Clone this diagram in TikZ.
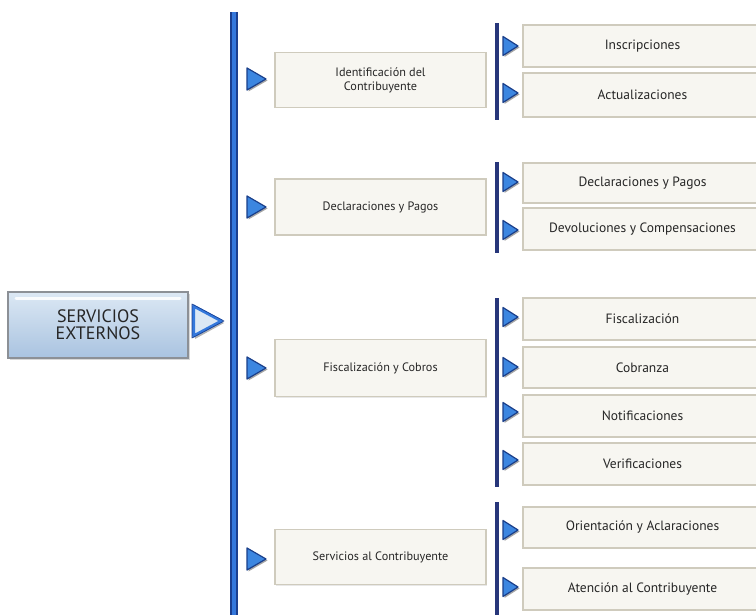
\documentclass[tikz,border=0pt]{standalone}
\usepackage{fontspec}
\setmainfont{PT Sans}
\usetikzlibrary{shadows}
\definecolor{boxfill}{HTML}{F7F6F1}
\definecolor{boxedge}{HTML}{CFCBBD}
\definecolor{txt}{HTML}{262626}
\definecolor{mainbar}{HTML}{3478DC}
\definecolor{mainbaredge}{HTML}{1B3F8F}
\definecolor{subbar}{HTML}{27367A}
\definecolor{trifill}{HTML}{3C86E0}
\definecolor{triedge}{HTML}{1A3F8A}
\definecolor{maintop}{HTML}{DCE8F4}
\definecolor{mainbot}{HTML}{A9C3E0}
\definecolor{mainedge}{HTML}{8C9096}
\newcommand{\ptri}[4]{%
  \fill[black,opacity=.35] (#1+1.5,#2-#4/2+1.5) -- (#1+#3+1.5,#2+1.5) -- (#1+1.5,#2+#4/2+1.5) -- cycle;
  \draw[tristyle] (#1,#2-#4/2) -- (#1+#3,#2) -- (#1,#2+#4/2) -- cycle;}
\tikzset{
  tristyle/.style={draw=triedge, line width=1.2pt, line join=round, fill=trifill},
  lonebox/.style={rectangle, fill=boxfill, draw=boxedge, line width=1.8pt, text=txt,
    align=center, font=\fontsize{12.2}{14}\selectfont,
    drop shadow={shadow xshift=1pt, shadow yshift=-1pt, opacity=.18}},
  ltwobox/.style={lonebox, minimum width=239pt, font=\fontsize{13.5}{15}\selectfont},
  lone/.style={lonebox, minimum width=211pt, minimum height=55pt},
}
\begin{document}
\begin{tikzpicture}[x=1pt,y=-1pt]
\clip (0,0) rectangle (756,615);
\fill[white] (0,0) rectangle (756,615);
% main box
\node[rectangle, minimum width=180pt, minimum height=66pt, top color=maintop, bottom color=mainbot,
  draw=mainedge, line width=1.4pt, text=txt, align=center,
  font=\fontsize{18}{17}\selectfont,
  drop shadow={shadow xshift=1.5pt, shadow yshift=-1.5pt, opacity=.3}]
  (main) at (98,325) {SERVICIOS\\EXTERNOS};
\draw[white, line width=3pt, opacity=.85, line cap=round] (16,298) -- (180,298);
% main triangle: thick blue outline, light interior
\fill[black,opacity=.3] (195,307) -- (224,323) -- (195,339) -- cycle;
\draw[draw=mainbar, line width=3pt, line join=round, fill=maintop] (193.5,306) -- (221.5,321) -- (193.5,336) -- cycle;
\draw[draw=mainbaredge, line width=.6pt, line join=round] (192,304) -- (224,321) -- (192,338) -- cycle;
% main bar
\fill[mainbaredge] (230,12) rectangle (237.5,615);
\fill[mainbar] (231.5,12) rectangle (236,615);
% level 1 boxes
\node[lone] (id) at (380.5,80) {Identificación del\\Contribuyente};
\node[lone, minimum height=56pt] (dp) at (380.5,207) {Declaraciones y Pagos};
\node[lone, minimum height=57pt] (fc) at (380.5,368) {Fiscalización y Cobros};
\node[lone] (sc) at (380.5,557) {Servicios al Contribuyente};
\ptri{247}{79}{19}{22}
\ptri{247}{207}{19}{22}
\ptri{247}{368}{19}{22}
\ptri{247}{559}{19}{22}
% level 2 bars
\fill[subbar] (495,23) rectangle (499,120);
\fill[subbar] (495,162) rectangle (499,253);
\fill[subbar] (495,298) rectangle (499,487);
\fill[subbar] (495,502) rectangle (499,615);
% level 2 boxes
\node[ltwobox, minimum height=42pt] (ins) at (642.5,46) {Inscripciones};
\node[ltwobox, minimum height=44pt] (act) at (642.5,95) {Actualizaciones};
\node[ltwobox, minimum height=40pt] (dp2) at (642.5,183) {Declaraciones y Pagos};
\node[ltwobox, minimum height=42pt] (dev) at (642.5,229) {Devoluciones y Compensaciones};
\node[ltwobox, minimum height=42pt] (fis) at (642.5,319) {Fiscalización};
\node[ltwobox, minimum height=41pt] (cob) at (642.5,367.5) {Cobranza};
\node[ltwobox, minimum height=42pt] (not) at (642.5,416) {Notificaciones};
\node[ltwobox, minimum height=42pt] (ver) at (642.5,464) {Verificaciones};
\node[ltwobox, minimum height=41pt] (ori) at (642.5,527.5) {Orientación y Aclaraciones};
\node[ltwobox, minimum height=42pt] (ate) at (642.5,589) {Atención al Contribuyente};
\ptri{503}{46}{15}{19}
\ptri{503}{93}{15}{19}
\ptri{503}{182}{15}{19}
\ptri{503}{230}{15}{19}
\ptri{503}{317}{15}{19}
\ptri{503}{367}{15}{19}
\ptri{503}{412}{15}{19}
\ptri{503}{460}{15}{19}
\ptri{503}{530}{15}{19}
\ptri{503}{587}{15}{19}
\end{tikzpicture}
\end{document}
